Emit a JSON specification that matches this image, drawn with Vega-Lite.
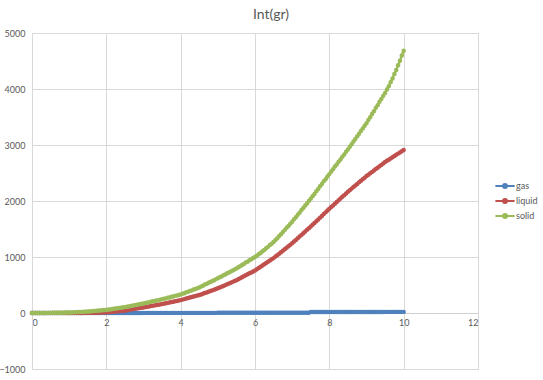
{
  "$schema": "https://vega.github.io/schema/vega-lite/v6.json",
  "width": 446,
  "height": 336,
  "autosize": {"type": "none"},
  "padding": {"left": 32, "top": 33, "right": 65, "bottom": 11},
  "background": "white",
  "title": {"text": "Int(gr)", "fontSize": 14, "font": "Lato", "fontWeight": "normal", "color": "#595959", "dx": 16, "offset": 7},
  "data": {"values": [
    {"x":0,"gas":0,"liquid":0,"solid":0},{"x":0.05,"gas":0,"liquid":0,"solid":0},{"x":0.1,"gas":0,"liquid":0,"solid":0},{"x":0.15,"gas":0,"liquid":0,"solid":0},{"x":0.2,"gas":0,"liquid":0,"solid":1},
    {"x":0.25,"gas":0,"liquid":0,"solid":1},{"x":0.3,"gas":0,"liquid":0,"solid":1},{"x":0.35,"gas":0,"liquid":0,"solid":1},{"x":0.4,"gas":0,"liquid":0,"solid":2},{"x":0.45,"gas":0,"liquid":0,"solid":2},
    {"x":0.5,"gas":0,"liquid":0,"solid":2},{"x":0.55,"gas":0,"liquid":0,"solid":3},{"x":0.6,"gas":0,"liquid":0,"solid":3},{"x":0.65,"gas":0,"liquid":0,"solid":4},{"x":0.7,"gas":0,"liquid":0,"solid":4},
    {"x":0.75,"gas":0,"liquid":0,"solid":5},{"x":0.8,"gas":0,"liquid":0,"solid":6},{"x":0.85,"gas":0,"liquid":0,"solid":6},{"x":0.9,"gas":0,"liquid":0,"solid":7},{"x":0.95,"gas":0,"liquid":0,"solid":7},
    {"x":1,"gas":1,"liquid":0,"solid":8},{"x":1.05,"gas":1,"liquid":0,"solid":10},{"x":1.1,"gas":1,"liquid":0,"solid":11},{"x":1.15,"gas":1,"liquid":1,"solid":13},{"x":1.2,"gas":1,"liquid":1,"solid":15},
    {"x":1.25,"gas":1,"liquid":1,"solid":17},{"x":1.3,"gas":1,"liquid":1,"solid":18},{"x":1.35,"gas":1,"liquid":1,"solid":20},{"x":1.4,"gas":1,"liquid":2,"solid":22},{"x":1.45,"gas":1,"liquid":2,"solid":23},
    {"x":1.5,"gas":1,"liquid":2,"solid":25},{"x":1.55,"gas":1,"liquid":3,"solid":28},{"x":1.6,"gas":1,"liquid":4,"solid":31},{"x":1.65,"gas":1,"liquid":5,"solid":34},{"x":1.7,"gas":1,"liquid":6,"solid":37},
    {"x":1.75,"gas":1,"liquid":7,"solid":40},{"x":1.8,"gas":1,"liquid":8,"solid":43},{"x":1.85,"gas":1,"liquid":9,"solid":46},{"x":1.9,"gas":1,"liquid":10,"solid":49},{"x":1.95,"gas":1,"liquid":11,"solid":52},
    {"x":2,"gas":1,"liquid":12,"solid":55},{"x":2.05,"gas":1,"liquid":15,"solid":61},{"x":2.1,"gas":1,"liquid":19,"solid":64},{"x":2.15,"gas":1,"liquid":22,"solid":71},{"x":2.2,"gas":1,"liquid":25,"solid":74},
    {"x":2.25,"gas":1,"liquid":28,"solid":81},{"x":2.3,"gas":1,"liquid":32,"solid":84},{"x":2.35,"gas":1,"liquid":35,"solid":91},{"x":2.4,"gas":1,"liquid":38,"solid":95},{"x":2.45,"gas":1,"liquid":42,"solid":101},
    {"x":2.5,"gas":1,"liquid":45,"solid":105},{"x":2.55,"gas":1,"liquid":51,"solid":113},{"x":2.6,"gas":1,"liquid":56,"solid":117},{"x":2.65,"gas":1,"liquid":62,"solid":126},{"x":2.7,"gas":1,"liquid":67,"solid":130},
    {"x":2.75,"gas":1,"liquid":73,"solid":139},{"x":2.8,"gas":1,"liquid":78,"solid":143},{"x":2.85,"gas":1,"liquid":84,"solid":152},{"x":2.9,"gas":1,"liquid":89,"solid":156},{"x":2.95,"gas":1,"liquid":95,"solid":165},
    {"x":3,"gas":2,"liquid":100,"solid":170},{"x":3.05,"gas":2,"liquid":106,"solid":179},{"x":3.1,"gas":2,"liquid":112,"solid":184},{"x":3.15,"gas":2,"liquid":118,"solid":194},{"x":3.2,"gas":2,"liquid":124,"solid":199},
    {"x":3.25,"gas":2,"liquid":130,"solid":209},{"x":3.3,"gas":2,"liquid":136,"solid":214},{"x":3.35,"gas":2,"liquid":142,"solid":224},{"x":3.4,"gas":2,"liquid":148,"solid":229},{"x":3.45,"gas":2,"liquid":154,"solid":239},
    {"x":3.5,"gas":2,"liquid":160,"solid":245},{"x":3.55,"gas":2,"liquid":167,"solid":255},{"x":3.6,"gas":2,"liquid":174,"solid":261},{"x":3.65,"gas":2,"liquid":181,"solid":272},{"x":3.7,"gas":2,"liquid":188,"solid":278},
    {"x":3.75,"gas":2,"liquid":195,"solid":290},{"x":3.8,"gas":2,"liquid":202,"solid":295},{"x":3.85,"gas":2,"liquid":209,"solid":306},{"x":3.9,"gas":2,"liquid":216,"solid":312},{"x":3.95,"gas":2,"liquid":223,"solid":323},
    {"x":4,"gas":2,"liquid":230,"solid":330},{"x":4.05,"gas":2,"liquid":239,"solid":344},{"x":4.1,"gas":2,"liquid":248,"solid":354},{"x":4.15,"gas":2,"liquid":257,"solid":370},{"x":4.2,"gas":2,"liquid":266,"solid":379},
    {"x":4.25,"gas":2,"liquid":275,"solid":395},{"x":4.3,"gas":2,"liquid":284,"solid":404},{"x":4.35,"gas":2,"liquid":293,"solid":420},{"x":4.4,"gas":2,"liquid":302,"solid":429},{"x":4.45,"gas":2,"liquid":311,"solid":444},
    {"x":4.5,"gas":2,"liquid":320,"solid":455},{"x":4.55,"gas":2,"liquid":332,"solid":473},{"x":4.6,"gas":2,"liquid":344,"solid":487},{"x":4.65,"gas":2,"liquid":356,"solid":507},{"x":4.7,"gas":2,"liquid":368,"solid":520},
    {"x":4.75,"gas":2,"liquid":380,"solid":540},{"x":4.8,"gas":2,"liquid":392,"solid":553},{"x":4.85,"gas":2,"liquid":404,"solid":573},{"x":4.9,"gas":2,"liquid":416,"solid":586},{"x":4.95,"gas":2,"liquid":428,"solid":605},
    {"x":5,"gas":3,"liquid":440,"solid":620},{"x":5.05,"gas":3,"liquid":455,"solid":639},{"x":5.1,"gas":3,"liquid":469,"solid":653},{"x":5.15,"gas":3,"liquid":484,"solid":673},{"x":5.2,"gas":3,"liquid":498,"solid":688},
    {"x":5.25,"gas":3,"liquid":513,"solid":708},{"x":5.3,"gas":3,"liquid":527,"solid":722},{"x":5.35,"gas":3,"liquid":542,"solid":743},{"x":5.4,"gas":3,"liquid":556,"solid":757},{"x":5.45,"gas":3,"liquid":571,"solid":778},
    {"x":5.5,"gas":3,"liquid":585,"solid":795},{"x":5.55,"gas":3,"liquid":603,"solid":817},{"x":5.6,"gas":3,"liquid":620,"solid":834},{"x":5.65,"gas":3,"liquid":638,"solid":858},{"x":5.7,"gas":3,"liquid":655,"solid":875},
    {"x":5.75,"gas":3,"liquid":673,"solid":900},{"x":5.8,"gas":3,"liquid":690,"solid":917},{"x":5.85,"gas":3,"liquid":708,"solid":943},{"x":5.9,"gas":3,"liquid":725,"solid":960},{"x":5.95,"gas":3,"liquid":743,"solid":984},
    {"x":6,"gas":3,"liquid":760,"solid":1000},{"x":6.05,"gas":3,"liquid":782,"solid":1024},{"x":6.1,"gas":3,"liquid":804,"solid":1049},{"x":6.15,"gas":3,"liquid":826,"solid":1073},{"x":6.2,"gas":3,"liquid":848,"solid":1102},
    {"x":6.25,"gas":3,"liquid":870,"solid":1126},{"x":6.3,"gas":3,"liquid":892,"solid":1157},{"x":6.35,"gas":3,"liquid":914,"solid":1181},{"x":6.4,"gas":3,"liquid":936,"solid":1213},{"x":6.45,"gas":3,"liquid":958,"solid":1237},
    {"x":6.5,"gas":4,"liquid":980,"solid":1268},{"x":6.55,"gas":4,"liquid":1007,"solid":1302},{"x":6.6,"gas":4,"liquid":1033,"solid":1334},{"x":6.65,"gas":4,"liquid":1060,"solid":1374},{"x":6.7,"gas":4,"liquid":1086,"solid":1406},
    {"x":6.75,"gas":4,"liquid":1113,"solid":1448},{"x":6.8,"gas":4,"liquid":1139,"solid":1480},{"x":6.85,"gas":4,"liquid":1166,"solid":1522},{"x":6.9,"gas":4,"liquid":1192,"solid":1554},{"x":6.95,"gas":4,"liquid":1219,"solid":1595},
    {"x":7,"gas":4,"liquid":1245,"solid":1630},{"x":7.05,"gas":4,"liquid":1275,"solid":1673},{"x":7.1,"gas":4,"liquid":1305,"solid":1710},{"x":7.15,"gas":4,"liquid":1335,"solid":1756},{"x":7.2,"gas":4,"liquid":1365,"solid":1792},
    {"x":7.25,"gas":4,"liquid":1395,"solid":1838},{"x":7.3,"gas":4,"liquid":1425,"solid":1874},{"x":7.35,"gas":4,"liquid":1455,"solid":1920},{"x":7.4,"gas":4,"liquid":1485,"solid":1956},{"x":7.45,"gas":4,"liquid":1515,"solid":2002},
    {"x":7.5,"gas":18,"liquid":1545,"solid":2040},{"x":7.55,"gas":18,"liquid":1577,"solid":2087},{"x":7.6,"gas":18,"liquid":1608,"solid":2126},{"x":7.65,"gas":18,"liquid":1640,"solid":2175},{"x":7.7,"gas":18,"liquid":1671,"solid":2214},
    {"x":7.75,"gas":18,"liquid":1703,"solid":2263},{"x":7.8,"gas":18,"liquid":1734,"solid":2302},{"x":7.85,"gas":18,"liquid":1766,"solid":2351},{"x":7.9,"gas":18,"liquid":1797,"solid":2390},{"x":7.95,"gas":18,"liquid":1829,"solid":2438},
    {"x":8,"gas":18,"liquid":1860,"solid":2480},{"x":8.05,"gas":18,"liquid":1891,"solid":2527},{"x":8.1,"gas":18,"liquid":1921,"solid":2566},{"x":8.15,"gas":18,"liquid":1952,"solid":2615},{"x":8.2,"gas":18,"liquid":1982,"solid":2654},
    {"x":8.25,"gas":18,"liquid":2013,"solid":2703},{"x":8.3,"gas":18,"liquid":2043,"solid":2742},{"x":8.35,"gas":18,"liquid":2074,"solid":2791},{"x":8.4,"gas":18,"liquid":2104,"solid":2830},{"x":8.45,"gas":18,"liquid":2135,"solid":2878},
    {"x":8.5,"gas":19,"liquid":2165,"solid":2920},{"x":8.55,"gas":19,"liquid":2193,"solid":2970},{"x":8.6,"gas":19,"liquid":2221,"solid":3012},{"x":8.65,"gas":19,"liquid":2249,"solid":3064},{"x":8.7,"gas":19,"liquid":2277,"solid":3106},
    {"x":8.75,"gas":19,"liquid":2305,"solid":3158},{"x":8.8,"gas":19,"liquid":2333,"solid":3200},{"x":8.85,"gas":19,"liquid":2361,"solid":3252},{"x":8.9,"gas":19,"liquid":2389,"solid":3294},{"x":8.95,"gas":19,"liquid":2417,"solid":3345},
    {"x":9,"gas":19,"liquid":2445,"solid":3390},{"x":9.05,"gas":19,"liquid":2470,"solid":3447},{"x":9.1,"gas":19,"liquid":2495,"solid":3496},{"x":9.15,"gas":19,"liquid":2520,"solid":3555},{"x":9.2,"gas":19,"liquid":2545,"solid":3604},
    {"x":9.25,"gas":19,"liquid":2570,"solid":3663},{"x":9.3,"gas":19,"liquid":2595,"solid":3712},{"x":9.35,"gas":19,"liquid":2620,"solid":3771},{"x":9.4,"gas":19,"liquid":2645,"solid":3820},{"x":9.45,"gas":19,"liquid":2670,"solid":3878},
    {"x":9.5,"gas":20,"liquid":2695,"solid":3930},{"x":9.55,"gas":20,"liquid":2717,"solid":3992},{"x":9.6,"gas":20,"liquid":2738,"solid":4050},{"x":9.65,"gas":20,"liquid":2760,"solid":4122},{"x":9.7,"gas":20,"liquid":2781,"solid":4186},
    {"x":9.75,"gas":20,"liquid":2803,"solid":4266},{"x":9.8,"gas":20,"liquid":2825,"solid":4338},{"x":9.85,"gas":20,"liquid":2846,"solid":4425},{"x":9.9,"gas":20,"liquid":2868,"solid":4504},{"x":9.95,"gas":20,"liquid":2889,"solid":4597},
    {"x":10,"gas":20,"liquid":2911,"solid":4684}
  ]},
  "transform": [{"fold": ["gas", "liquid", "solid"], "as": ["series", "value"]}],
  "encoding": {
    "x": {
      "field": "x", "type": "quantitative",
      "scale": {"domain": [0, 12], "nice": false, "zero": false},
      "axis": {"values": [0, 2, 4, 6, 8, 10, 12], "title": null, "grid": true, "gridColor": "#D9D9D9", "ticks": false, "domainColor": "#D0D0D0", "labelPadding": 5, "offset": -56, "labelFont": "Lato", "labelFontSize": 9, "labelColor": "#595959"}
    },
    "y": {
      "field": "value", "type": "quantitative",
      "scale": {"domain": [-1000, 5000], "nice": false, "zero": false},
      "axis": {"values": [-1000, 0, 1000, 2000, 3000, 4000, 5000], "format": "d", "title": null, "grid": true, "gridColor": "#D9D9D9", "ticks": false, "domainColor": "#D9D9D9", "labelPadding": 7, "labelFont": "Lato", "labelFontSize": 9, "labelColor": "#595959"}
    },
    "color": {
      "field": "series", "type": "nominal",
      "scale": {"domain": ["gas", "liquid", "solid"], "range": ["#4F81BD", "#C0504D", "#9BBB59"]},
      "legend": {
        "orient": "none", "legendX": 464, "legendY": 144, "title": null,
        "symbolType": "M-1.2,0L1.2,0M-0.25,0A0.25,0.25,0,1,1,0.25,0A0.25,0.25,0,1,1,-0.25,0",
        "symbolSize": 256, "symbolStrokeWidth": 2, "rowPadding": 0, "labelOffset": 2,
        "labelFont": "Lato", "labelFontSize": 9, "labelColor": "#595959",
        "encode": {"symbols": {"update": {"fill": {"scale": "color", "field": "value"}, "stroke": {"scale": "color", "field": "value"}, "opacity": {"value": 1}}}}
      }
    }
  },
  "layer": [
    {"mark": {"type": "line", "strokeWidth": 2.5}},
    {"mark": {"type": "point", "filled": true, "size": 20, "opacity": 1}, "encoding": {"order": {"field": "series", "type": "ordinal"}}}
  ],
  "config": {"view": {"stroke": "#D9D9D9"}}
}
